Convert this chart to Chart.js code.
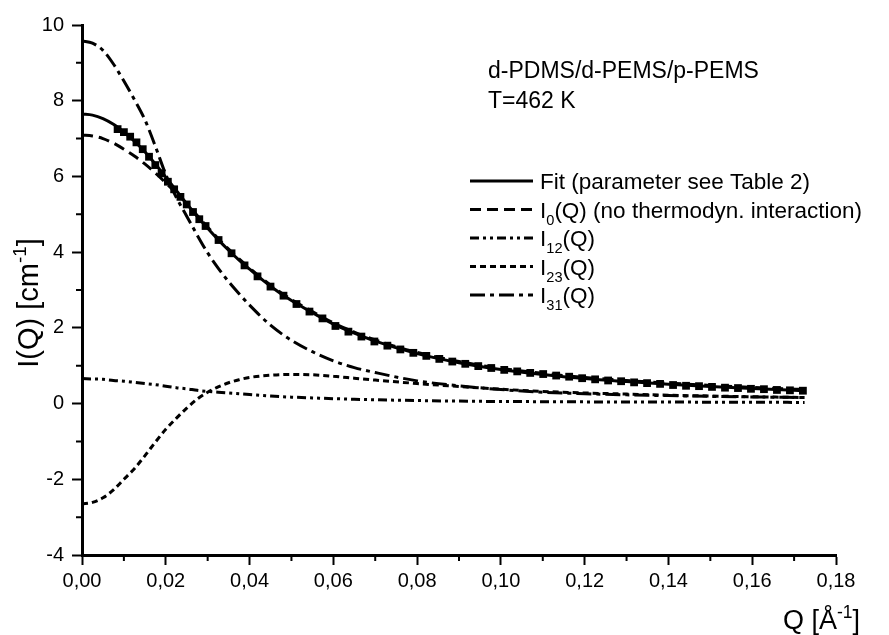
<!DOCTYPE html>
<html lang="en">
<head>
    <meta charset="UTF-8">
    <title>I(Q) d-PDMS/d-PEMS/p-PEMS</title>
    <script src="https://cdn.jsdelivr.net/npm/chart.js"></script>
    <style>
        body { margin: 0; background: #fff; }
        #wrap { width: 889px; height: 635px; }
    </style>
</head>
<body>
    <div id="wrap"><canvas id="chart" width="889" height="635"></canvas></div>

    <script>
        // Q grid shared by the model curves
        const qCurve = [0, 0.0025, 0.005, 0.0075, 0.01, 0.0125, 0.015, 0.0175, 0.02, 0.0225, 0.025, 0.0275,
            0.03, 0.0325, 0.035, 0.0375, 0.04, 0.045, 0.05, 0.055, 0.06, 0.065, 0.07, 0.08, 0.09,
            0.10, 0.11, 0.12, 0.13, 0.14, 0.15, 0.16, 0.1725];

        const iFit = [7.65, 7.62, 7.53, 7.38, 7.17, 6.93, 6.65, 6.33, 5.98, 5.63, 5.28, 4.95,
            4.63, 4.33, 4.05, 3.79, 3.55, 3.10, 2.72, 2.40, 2.10, 1.86, 1.65, 1.32, 1.08,
            0.90, 0.77, 0.66, 0.58, 0.51, 0.45, 0.40, 0.34];

        const iZero = [7.09, 7.07, 7.00, 6.88, 6.72, 6.54, 6.33, 6.09, 5.83, 5.56, 5.28, 4.97,
            4.66, 4.36, 4.08, 3.82, 3.58, 3.13, 2.75, 2.43, 2.13, 1.89, 1.68, 1.35, 1.11,
            0.93, 0.80, 0.69, 0.61, 0.54, 0.48, 0.43, 0.37];

        const i12 = [0.66, 0.65, 0.64, 0.61, 0.59, 0.56, 0.53, 0.50, 0.46, 0.42, 0.39, 0.35,
            0.32, 0.30, 0.28, 0.26, 0.24, 0.20, 0.17, 0.15, 0.13, 0.115, 0.10, 0.08, 0.065,
            0.055, 0.05, 0.045, 0.042, 0.04, 0.037, 0.035, 0.03];

        const i23 = [-2.65, -2.61, -2.49, -2.28, -2.00, -1.72, -1.38, -1.02, -0.68, -0.39, -0.12, 0.12,
            0.30, 0.44, 0.55, 0.63, 0.69, 0.75, 0.77, 0.76, 0.72, 0.67, 0.62, 0.53, 0.45,
            0.38, 0.32, 0.28, 0.25, 0.22, 0.20, 0.18, 0.16];

        const i31 = [9.58, 9.52, 9.33, 8.97, 8.52, 8.03, 7.50, 6.80, 6.05, 5.45, 4.95, 4.45,
            3.98, 3.58, 3.22, 2.90, 2.60, 2.07, 1.67, 1.37, 1.13, 0.95, 0.82, 0.60, 0.47,
            0.37, 0.30, 0.26, 0.23, 0.21, 0.19, 0.175, 0.16];

        // measured points
        const qData = [0.0085, 0.0100, 0.0115, 0.0130, 0.0145, 0.0160, 0.0175, 0.0190, 0.0205, 0.0220,
            0.0235, 0.0250, 0.0265, 0.0280, 0.0295,
            0.0326, 0.0357, 0.0388, 0.0419, 0.0450, 0.0481, 0.0512, 0.0543, 0.0574, 0.0605,
            0.0636, 0.0667, 0.0698, 0.0729, 0.0760, 0.0791, 0.0822, 0.0853, 0.0884, 0.0915,
            0.0946, 0.0977, 0.1008, 0.1039, 0.1070, 0.1101, 0.1132, 0.1163, 0.1194, 0.1225,
            0.1256, 0.1287, 0.1318, 0.1349, 0.1380, 0.1411, 0.1442, 0.1473, 0.1504, 0.1535,
            0.1566, 0.1597, 0.1628, 0.1659, 0.1690, 0.1721];

        const iData = [7.25, 7.17, 7.05, 6.90, 6.72, 6.52, 6.30, 6.08, 5.86, 5.66,
            5.46, 5.26, 5.06, 4.87, 4.69,
            4.32, 3.97, 3.65, 3.36, 3.09, 2.85, 2.63, 2.43, 2.25, 2.05,
            1.90, 1.77, 1.64, 1.53, 1.43, 1.34, 1.26, 1.18, 1.11, 1.05,
            0.99, 0.94, 0.89, 0.85, 0.81, 0.78, 0.74, 0.71, 0.67, 0.64,
            0.61, 0.59, 0.56, 0.54, 0.52, 0.49, 0.47, 0.46, 0.44, 0.42,
            0.41, 0.39, 0.38, 0.36, 0.35, 0.34];

        const yMinor = [-3, -1, 1, 3, 5, 7, 9];
        const xMinor = [0.01, 0.03, 0.05, 0.07, 0.09, 0.11, 0.13, 0.15, 0.17];

        const FONT = "'Liberation Sans', Arial, sans-serif";

        // line styles
        const dashI0 = [11, 6];
        const dash12 = [9, 4, 3, 4, 3, 4];
        const dash23 = [6, 4];
        const dash31 = [15, 5, 4, 5];

        const legendItems = [
            { dash: [], parts: [['Fit (parameter see Table 2)']] },
            { dash: dashI0, parts: [['I'], ['0', 'sub'], ['(Q) (no thermodyn. interaction)']] },
            { dash: dash12, parts: [['I'], ['12', 'sub'], ['(Q)']] },
            { dash: dash23, parts: [['I'], ['23', 'sub'], ['(Q)']] },
            { dash: dash31, parts: [['I'], ['31', 'sub'], ['(Q)']] }
        ];

        const xy = (qs, vs) => qs.map((q, i) => ({ x: q, y: vs[i] }));

        function curve(vs, dash) {
            return {
                data: xy(qCurve, vs),
                showLine: true,
                borderColor: '#000',
                borderWidth: 3,
                borderDash: dash,
                pointRadius: 0,
                cubicInterpolationMode: 'monotone'
            };
        }

        // draws text pieces with sub/superscripts, returns the width
        function drawParts(ctx, x, y, parts, size, measureOnly) {
            let cx = x;
            for (const [t, kind] of parts) {
                const s = kind ? size * 0.65 : size;
                ctx.font = s + 'px ' + FONT;
                const dy = kind === 'sub' ? size * 0.32 : kind === 'sup' ? -size * 0.42 : 0;
                if (!measureOnly) ctx.fillText(t, cx, y + dy);
                cx += ctx.measureText(t).width;
            }
            return cx - x;
        }

        const extras = {
            id: 'extras',
            afterDraw(chart) {
                const { ctx, chartArea, scales } = chart;
                ctx.save();
                ctx.strokeStyle = '#000';
                ctx.fillStyle = '#000';
                ctx.lineWidth = 2;

                // minor ticks
                ctx.beginPath();
                yMinor.forEach(v => {
                    const py = scales.y.getPixelForValue(v);
                    ctx.moveTo(chartArea.left - 6, py);
                    ctx.lineTo(chartArea.left, py);
                });
                xMinor.forEach(v => {
                    const px = scales.x.getPixelForValue(v);
                    ctx.moveTo(px, chartArea.bottom);
                    ctx.lineTo(px, chartArea.bottom + 6);
                });
                ctx.stroke();

                ctx.textBaseline = 'alphabetic';
                ctx.textAlign = 'left';

                // sample description
                ctx.font = '23px ' + FONT;
                ctx.fillText('d-PDMS/d-PEMS/p-PEMS', 488, 78);
                ctx.fillText('T=462 K', 488, 108);

                // legend
                legendItems.forEach((it, k) => {
                    const cy = 181 + k * 28.5;
                    ctx.setLineDash(it.dash);
                    ctx.lineWidth = 3;
                    ctx.beginPath();
                    ctx.moveTo(470, cy);
                    ctx.lineTo(533, cy);
                    ctx.stroke();
                    ctx.setLineDash([]);
                    drawParts(ctx, 540, cy + 8, it.parts, 22.5);
                });

                // axis titles
                const yTitle = [['I(Q) [cm'], ['-1', 'sup'], [']']];
                const w = drawParts(ctx, 0, 0, yTitle, 29, true);
                ctx.save();
                ctx.translate(38, 303);
                ctx.rotate(-Math.PI / 2);
                drawParts(ctx, -w / 2, 0, yTitle, 29);
                ctx.restore();

                drawParts(ctx, 783, 629, [['Q [Å'], ['-1', 'sup'], [']']], 27);
                ctx.restore();
            }
        };

        new Chart(document.getElementById('chart'), {
            type: 'scatter',
            data: {
                datasets: [
                    {
                        data: xy(qData, iData),
                        pointStyle: 'rect',
                        pointRadius: 5.5,
                        backgroundColor: '#000',
                        borderColor: '#000',
                        borderWidth: 0,
                        showLine: false
                    },
                    curve(iFit, []),
                    curve(iZero, dashI0),
                    curve(i12, dash12),
                    curve(i23, dash23),
                    curve(i31, dash31)
                ]
            },
            options: {
                responsive: false,
                animation: false,
                devicePixelRatio: 1,
                layout: { padding: { left: 0, top: 25, right: 53, bottom: 0 } },
                plugins: { legend: { display: false }, tooltip: { enabled: false } },
                scales: {
                    x: {
                        type: 'linear',
                        min: 0,
                        max: 0.18,
                        afterFit: s => { s.height = 80; },
                        ticks: {
                            stepSize: 0.02,
                            color: '#000',
                            padding: 4,
                            font: { family: FONT, size: 20 },
                            maxRotation: 0,
                            callback: v => v.toFixed(2).replace('.', ',')
                        },
                        grid: { drawOnChartArea: false, tickLength: 10, tickWidth: 2, tickColor: '#000' },
                        border: { display: true, color: '#000', width: 3 }
                    },
                    y: {
                        min: -4,
                        max: 10,
                        afterFit: s => { s.width = 82; },
                        ticks: {
                            stepSize: 2,
                            color: '#000',
                            padding: 8,
                            font: { family: FONT, size: 20 }
                        },
                        grid: { drawOnChartArea: false, tickLength: 10, tickWidth: 2, tickColor: '#000' },
                        border: { display: true, color: '#000', width: 3 }
                    }
                }
            },
            plugins: [extras]
        });
    </script>
</body>
</html>
